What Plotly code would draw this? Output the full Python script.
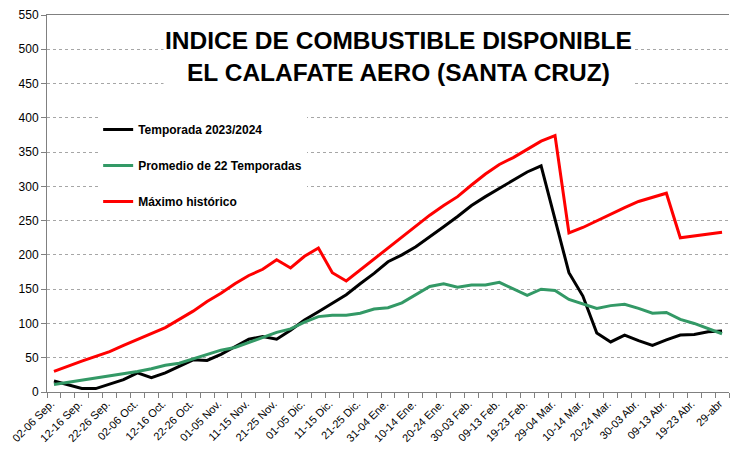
import plotly.graph_objects as go

categories = [
    "02-06 Sep.", "07-11 Sep.", "12-16 Sep.", "17-21 Sep.", "22-26 Sep.", "27-01 Oct.",
    "02-06 Oct.", "07-11 Oct.", "12-16 Oct.", "17-21 Oct.", "22-26 Oct.", "27-31 Oct.",
    "01-05 Nov.", "06-10 Nov.", "11-15 Nov.", "16-20 Nov.", "21-25 Nov.", "26-30 Nov.",
    "01-05 Dic.", "06-10 Dic.", "11-15 Dic.", "16-20 Dic.", "21-25 Dic.", "26-30 Dic.",
    "31-04 Ene.", "05-09 Ene.", "10-14 Ene.", "15-19 Ene.", "20-24 Ene.", "25-29 Ene.",
    "30-03 Feb.", "04-08 Feb.", "09-13 Feb.", "14-18 Feb.", "19-23 Feb.", "24-28 Feb.",
    "29-04 Mar.", "05-09 Mar.", "10-14 Mar.", "15-19 Mar.", "20-24 Mar.", "25-29 Mar.",
    "30-03 Abr.", "04-08 Abr.", "09-13 Abr.", "14-18 Abr.", "19-23 Abr.", "24-28 Abr.",
    "29-abr",
]

temporada_2023_2024 = [16, 10, 5, 5, 12, 18, 28, 21, 28, 37, 47, 46, 55, 66, 77, 81, 77, 90,
                       105, 117, 130, 142, 158, 173, 190, 200, 212, 226, 241, 256, 272, 285,
                       297, 309, 321, 330, 252, 174, 140, 86, 73, 83, 75, 68, 76, 83, 84, 88, 89]

promedio_22 = [11, 14, 18, 21, 24, 27, 30, 34, 39, 42, 48, 55, 61, 65, 72, 79, 87, 92, 102,
               110, 112, 112, 115, 121, 123, 130, 142, 154, 158, 153, 156, 156, 160, 150, 141,
               150, 148, 135, 129, 122, 126, 128, 122, 115, 116, 106, 100, 93, 85]

maximo_historico = [30, 38, 45, 52, 59, 68, 77, 85, 94, 106, 118, 132, 144, 158, 170, 179, 193,
                    181, 198, 210, 174, 162, 178, 195, 210, 226, 242, 258, 272, 285, 302, 318,
                    332, 342, 354, 366, 374, 232, 240, 250, 260, 269, 278, 284, 290, 225, 228,
                    231, 233]

series_names = ["Temporada 2023/2024", "Promedio de 22 Temporadas", "Máximo histórico"]
series_colors = ["#000000", "#339966", "#FF0000"]
y_ticks = list(range(0, 551, 50))

idx = list(range(len(categories)))
label_idx = idx[::2]
label_text = [categories[i] for i in label_idx]
label_pos = [i - 0.2 for i in label_idx]

fig = go.Figure()
for name, vals, col in zip(series_names, [temporada_2023_2024, promedio_22, maximo_historico], series_colors):
    fig.add_trace(go.Scatter(x=idx, y=vals, mode="lines", name=name, legendgroup=name,
                             line=dict(color=col, width=3)))

fig.update_layout(
    width=730, height=465,
    margin=dict(l=47, r=1, t=15, b=73, autoexpand=False),
    paper_bgcolor="white", plot_bgcolor="white",
    font=dict(family="Arial, Liberation Sans, sans-serif", color="black"),
    showlegend=True,
    legend=dict(x=0.075, y=0.735, xanchor="left", yanchor="top", bgcolor="white",
                font=dict(size=12, family="Arial, Liberation Sans, sans-serif", weight="bold"),
                tracegroupgap=17),
    xaxis=dict(range=[-0.5, len(categories) - 0.5], tickmode="array", tickvals=label_pos,
               ticktext=label_text, tickangle=-45, ticks="", tickfont=dict(size=11),
               automargin=False, ticklabeloverflow="allow",
               showgrid=False, zeroline=False, showline=True, linecolor="#808080", linewidth=1,
               mirror=True,
               minor=dict(tickmode="linear", tick0=-0.5, dtick=1, ticks="outside", ticklen=5,
                          tickcolor="#808080", showgrid=False)),
    yaxis=dict(range=[0, 550], tickmode="array", tickvals=y_ticks, ticks="outside", ticklen=5,
               automargin=False,
               tickcolor="#808080", tickfont=dict(size=12), showline=True, linecolor="#808080",
               linewidth=1, zeroline=False, showgrid=True, gridcolor="#A6A6A6", griddash="dot",
               gridwidth=1),
)

fig.add_annotation(
    text="INDICE DE COMBUSTIBLE DISPONIBLE<br>EL CALAFATE AERO (SANTA CRUZ)",
    xref="paper", yref="paper", x=0.515, y=0.891, xanchor="center", yanchor="middle",
    showarrow=False, bgcolor="white",
    font=dict(size=24.5, family="Arial, Liberation Sans, sans-serif", color="black", weight="bold"),
)

fig.write_html("out.html", config={"displayModeBar": False},
               post_script="document.body.style.margin='0px';")
